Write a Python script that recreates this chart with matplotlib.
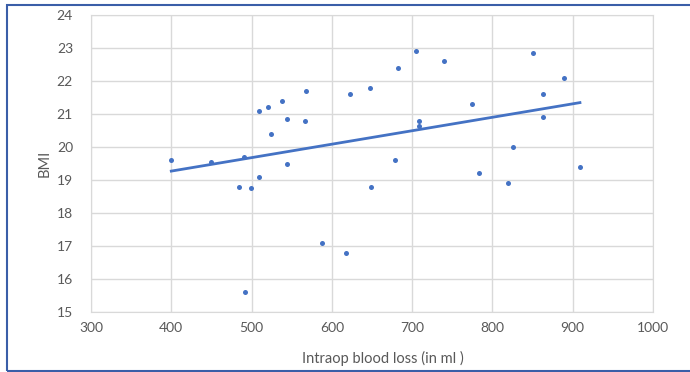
import numpy as np
import matplotlib
matplotlib.use("Agg")
import matplotlib.pyplot as plt
from matplotlib.patches import Rectangle

blood_loss = [400, 450, 490, 544, 509, 520, 538, 568, 544, 566, 524, 622, 648,
              683, 705, 740, 774, 709, 709, 679, 851, 889, 863, 863, 825, 909,
              484, 499, 509, 649, 588, 617, 492, 783, 819]
bmi = [19.6, 19.55, 19.7, 19.5, 21.1, 21.2, 21.4, 21.7, 20.85, 20.8, 20.4, 21.6, 21.8,
       22.4, 22.9, 22.6, 21.3, 20.8, 20.65, 19.6, 22.85, 22.1, 21.6, 20.9, 20.0, 19.4,
       18.8, 18.75, 19.1, 18.8, 17.1, 16.8, 15.6, 19.2, 18.9]
x_ticks = [300, 400, 500, 600, 700, 800, 900, 1000]
y_ticks = [15, 16, 17, 18, 19, 20, 21, 22, 23, 24]

plt.rcParams['font.family'] = ['Lato', 'DejaVu Sans']
fig = plt.figure(figsize=(6.9, 3.72), dpi=100)
ax = fig.add_axes([91/690, 1-312/372, (653-91)/690, (312-15)/372])

blue = '#4472C4'
ax.scatter(blood_loss, bmi, s=13, color=blue, zorder=3, linewidths=0)
x = np.array(blood_loss, dtype=float)
y = np.array(bmi)
m, b = np.polyfit(x, y, 1)
xs = np.array([x.min(), x.max()])
ax.plot(xs, m*xs + b, color=blue, lw=2, zorder=2)

ax.set_xlim(300, 1000)
ax.set_ylim(15, 24)
ax.set_xticks(x_ticks)
ax.set_yticks(y_ticks)
ax.grid(True, color='#d9d9d9', lw=1)
ax.set_axisbelow(True)
for s in ax.spines.values():
    s.set_color('#d9d9d9')
ax.tick_params(length=0, labelsize=10, labelcolor='#595959')
ax.tick_params(axis='y', pad=13)
ax.tick_params(axis='x', pad=7)
ax.set_xlabel('Intraop blood loss (in ml )', fontsize=10.5, color='#595959')
ax.set_ylabel('BMI', fontsize=10.5, color='#595959')
ax.xaxis.set_label_coords((383-91)/562, (312-351)/297)
ax.yaxis.set_label_coords((52-91)/562, 0.5)

fig.patches.append(Rectangle((7/690, 1.5/372), 1.0, 366/372, transform=fig.transFigure,
                             fill=False, edgecolor='#3a5ea8', lw=1.5))
fig.savefig('out.png', dpi=100)
